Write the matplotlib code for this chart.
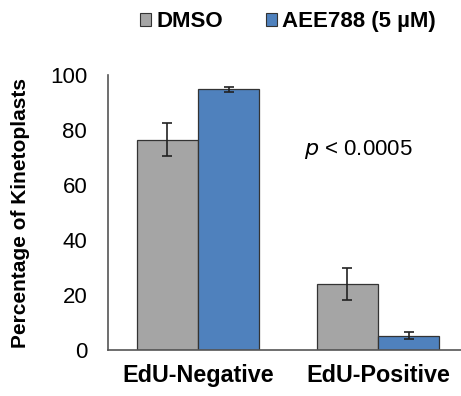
import matplotlib.pyplot as plt
import numpy as np
from matplotlib.patches import Patch

plt.rcParams["font.family"] = ["Liberation Sans", "DejaVu Sans"]

CATEGORIES = ["EdU-Negative", "EdU-Positive"]
SERIES = ["DMSO", "AEE788 (5 µM)"]
DMSO_MEAN = [76.4, 24.0]
DMSO_ERR = [6.0, 5.8]
AEE_MEAN = [94.8, 5.2]
AEE_ERR = [0.8, 1.2]
Y_TICKS = [0, 20, 40, 60, 80, 100]

COLORS = {"DMSO": "#a5a5a5", "AEE788 (5 µM)": "#4f81bd"}

fig = plt.figure(figsize=(4.61, 3.96), dpi=100)
ax = fig.add_axes([108 / 461, 46 / 396, 360 / 461, 275 / 396])

x = np.arange(len(CATEGORIES))
width = 0.34

err_style = {"elinewidth": 1.2, "capthick": 1.2, "ecolor": "#222222"}
ax.bar(x - width / 2, DMSO_MEAN, width, yerr=DMSO_ERR, capsize=3.3,
       color=COLORS["DMSO"], edgecolor="#333333", linewidth=0.9, error_kw=err_style)
ax.bar(x + width / 2, AEE_MEAN, width, yerr=AEE_ERR, capsize=3.3,
       color=COLORS["AEE788 (5 µM)"], edgecolor="#333333", linewidth=0.9, error_kw=err_style)

ax.set_xlim(-0.5, 1.5)
ax.set_ylim(0, 100)
ax.set_yticks(Y_TICKS)
ax.tick_params(axis="y", length=0, labelsize=16, pad=15)
ax.tick_params(axis="x", length=0, labelsize=16.8, pad=10)
ax.set_xticks(x)
ax.set_xticklabels(CATEGORIES, fontweight="bold")
ax.set_ylabel("Percentage of Kinetoplasts", fontsize=15, fontweight="bold", labelpad=14)

for s in ["top", "right"]:
    ax.spines[s].set_visible(False)
for s in ["left", "bottom"]:
    ax.spines[s].set_color("#555555")
    ax.spines[s].set_linewidth(1.2)

ax.text(0.59, 73, r"$\it{p}$ < 0.0005", fontsize=16, va="center", ha="left")

handles = [Patch(facecolor=COLORS[s], edgecolor="#333333", linewidth=0.8) for s in SERIES]
fig.legend(handles, SERIES, loc="center", bbox_to_anchor=(0.625, 0.945), ncol=2,
           frameon=False, prop={"size": 16, "weight": "bold"},
           handlelength=0.5, handleheight=0.5, handletextpad=0.25, columnspacing=1.9)

fig.savefig("out.png", dpi=100)
